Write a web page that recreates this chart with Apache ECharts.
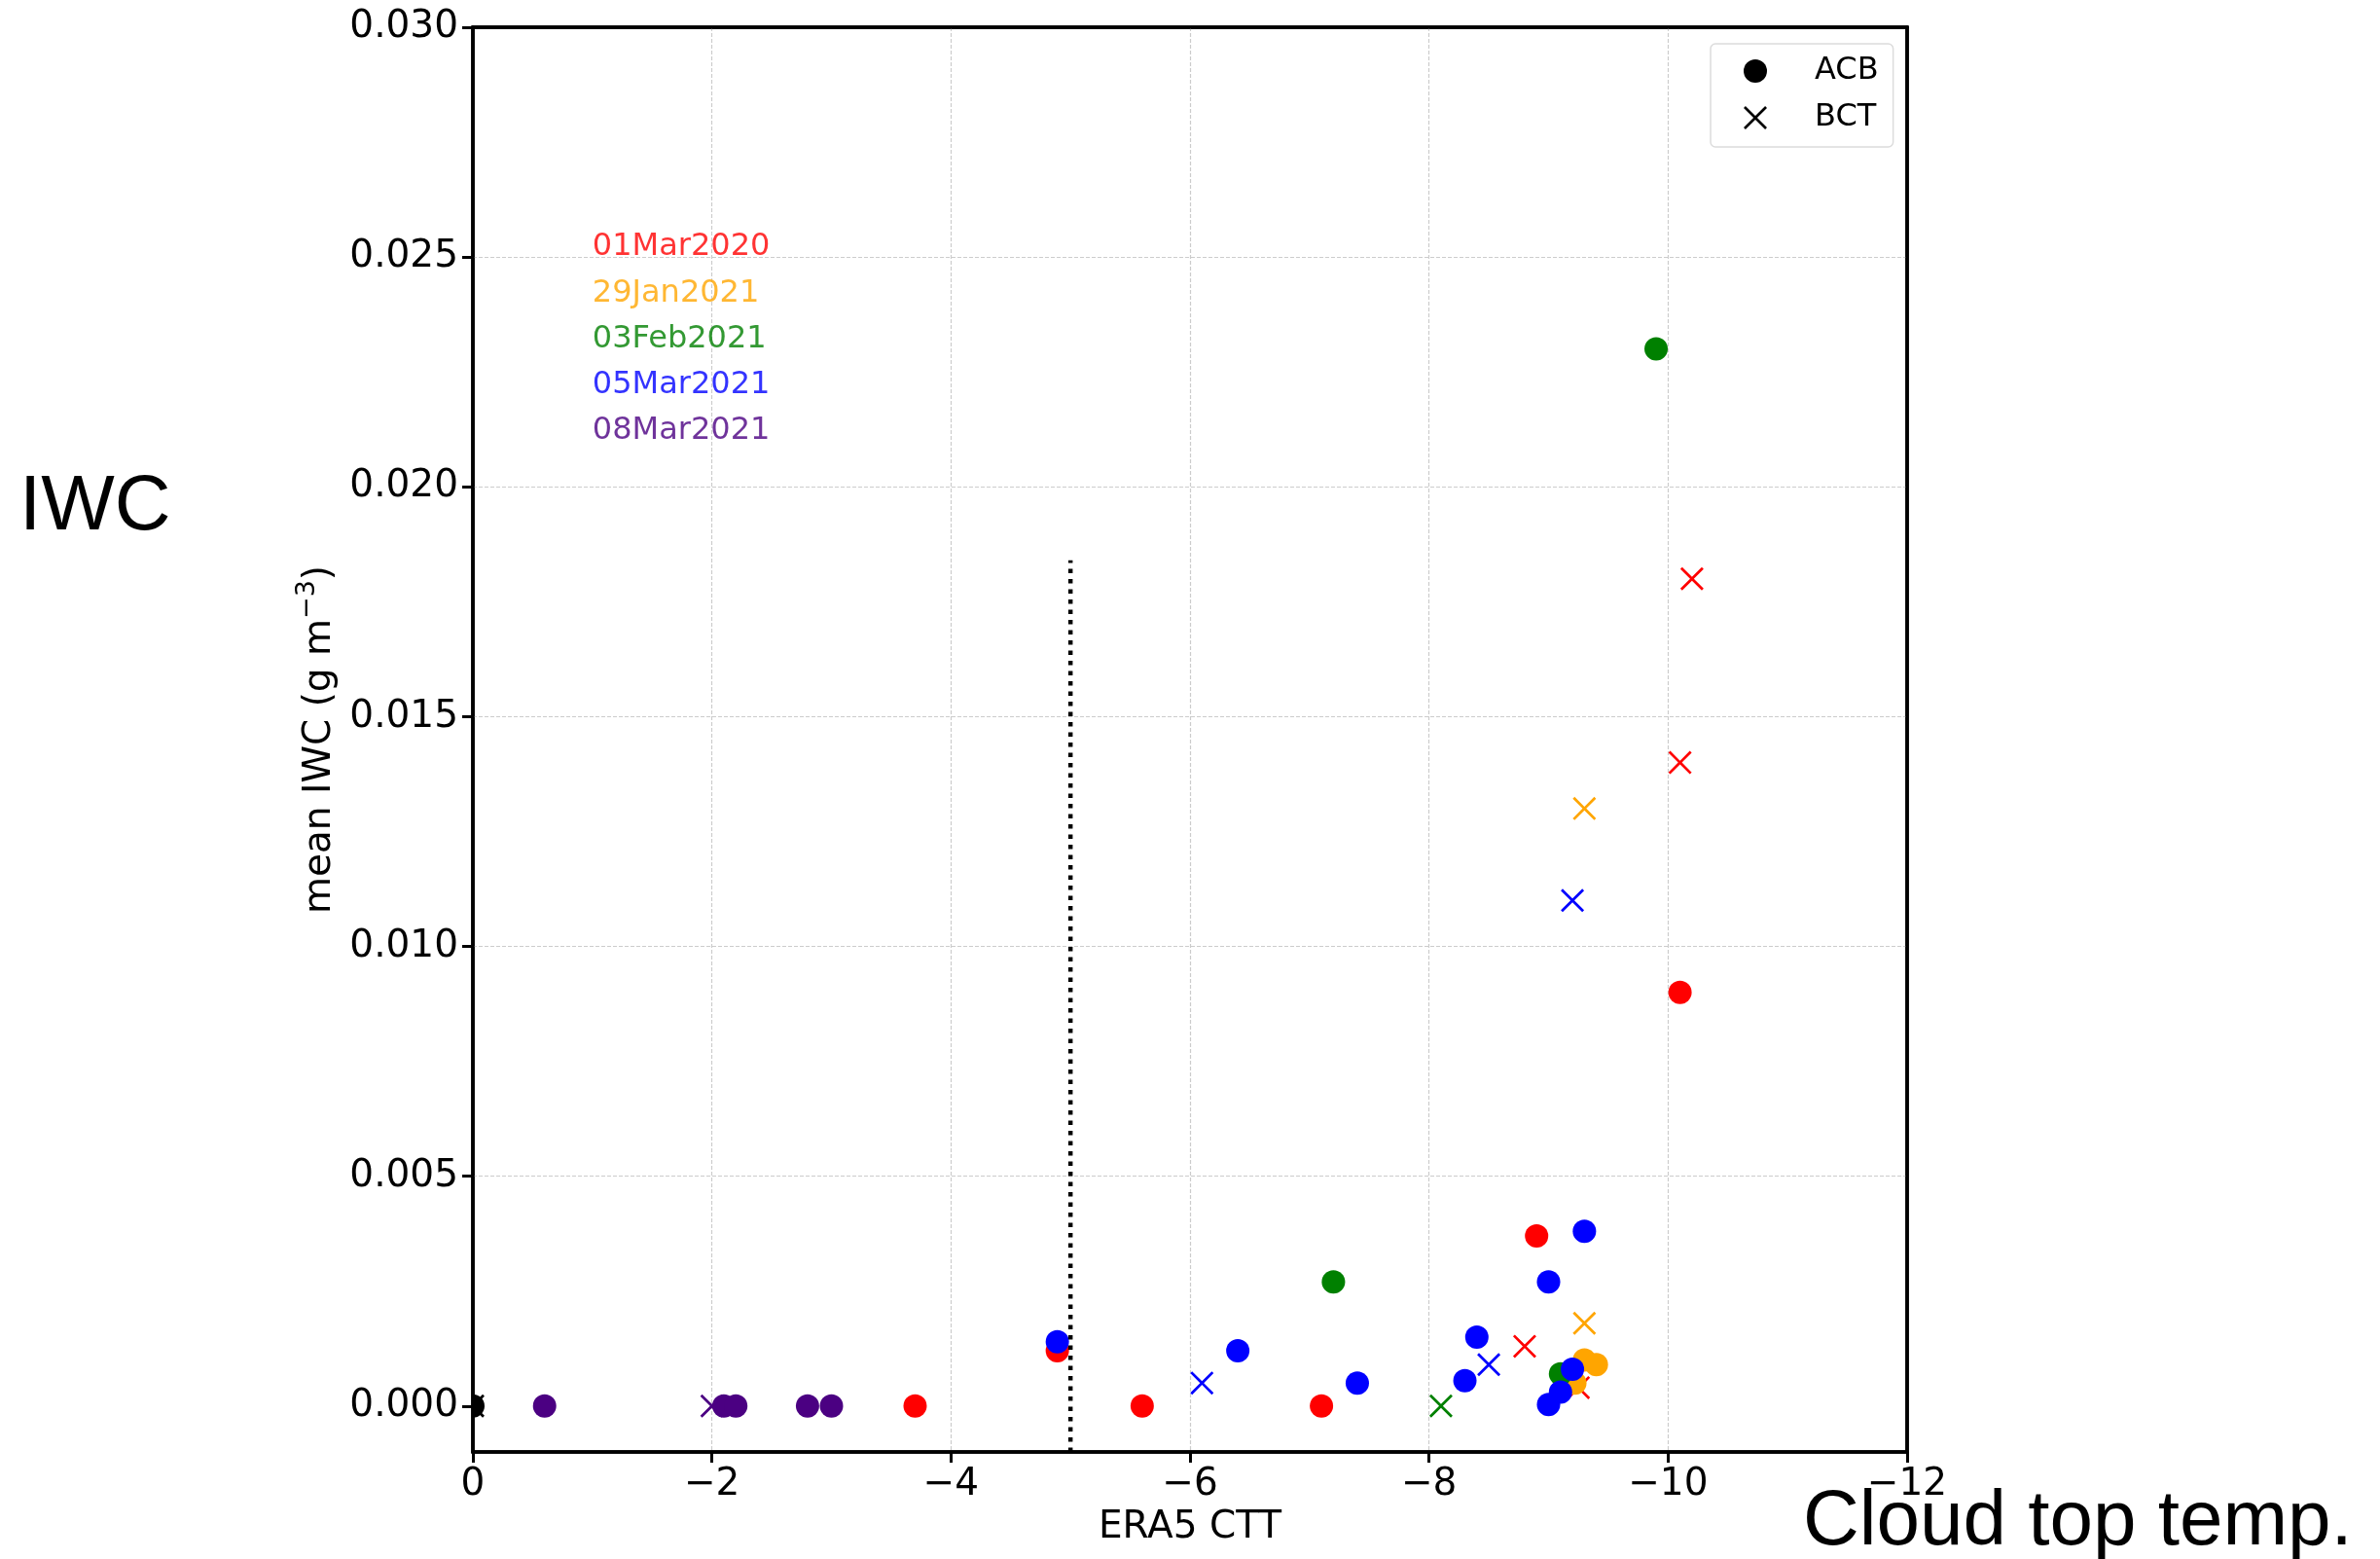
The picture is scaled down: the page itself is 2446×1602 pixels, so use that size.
<!DOCTYPE html>
<html><head><meta charset="utf-8">
<script src="https://cdn.jsdelivr.net/npm/echarts@6/dist/echarts.min.js"></script>
<style>html,body{margin:0;padding:0;background:#fff}#c{width:2446px;height:1602px}</style>
</head><body><div id="c"></div>
<script>
// ---- data ----
const dates = ['01Mar2020', '29Jan2021', '03Feb2021', '05Mar2021', '08Mar2021'];

// ACB (circles): [ERA5 CTT, mean IWC]
const acb_01Mar2020 = [[-3.7, 0], [-4.89, 0.0012], [-5.6, 0], [-7.1, 0], [-8.9, 0.0037], [-10.1, 0.009]];
const acb_29Jan2021 = [[-9.3, 0.001], [-9.4, 0.0009], [-9.22, 0.0005]];
const acb_03Feb2021 = [[-7.2, 0.0027], [-9.1, 0.0007], [-9.9, 0.023]];
const acb_05Mar2021 = [[-4.89, 0.0014], [-6.4, 0.0012], [-7.4, 0.0005], [-8.3, 0.00055], [-8.4, 0.0015],
                       [-9.0, 0.0027], [-9.0, 0.00003], [-9.1, 0.0003], [-9.2, 0.0008], [-9.3, 0.0038]];
const acb_08Mar2021 = [[-0.6, 0], [-2.1, 0], [-2.2, 0], [-2.8, 0], [-3.0, 0]];

// BCT (crosses)
const bct_01Mar2020 = [[-8.8, 0.0013], [-9.25, 0.0004], [-10.1, 0.014], [-10.2, 0.018]];
const bct_29Jan2021 = [[-9.3, 0.0018], [-9.3, 0.013]];
const bct_03Feb2021 = [[-8.1, 0]];
const bct_05Mar2021 = [[-6.1, 0.0005], [-8.5, 0.0009], [-9.2, 0.011]];
const bct_08Mar2021 = [[-2.0, 0]];

// legend handles (black points at origin)
const acb_legend = [[0, 0]];
const bct_legend = [[0, 0]];

// vertical reference line at -5 C
const cutoffLine = [[-5, -0.001], [-5, 0.0184]];

// date annotation positions (data coords)
const dateLabelX = -1;
const dateLabelY = [0.025, 0.024, 0.023, 0.022, 0.021];

// axes
const yTicks = [0, 0.005, 0.010, 0.015, 0.020, 0.025, 0.030];
const xMin = -12, xMax = 0, xStep = 2;
const yMin = -0.001, yMax = 0.030;

// ---- styles ----
const FONT = 'DejaVu Sans';
const colors = ['#ff0000', '#ffa500', '#008000', '#0000ff', '#4b0082'];
const crossPath = 'path://M0,8L8,0L50,42L92,0L100,8L58,50L100,92L92,100L50,58L8,100L0,92L42,50Z';
const acbByDate = [acb_01Mar2020, acb_29Jan2021, acb_03Feb2021, acb_05Mar2021, acb_08Mar2021];
const bctByDate = [bct_01Mar2020, bct_29Jan2021, bct_03Feb2021, bct_05Mar2021, bct_08Mar2021];

const series = [];
dates.forEach((d, i) => {
  series.push({ name: d + ' ACB', type: 'scatter', data: acbByDate[i], symbol: 'circle', symbolSize: 24,
    itemStyle: { color: colors[i], opacity: 1 }, silent: true, z: 3 });
  series.push({ name: d + ' BCT', type: 'scatter', data: bctByDate[i], symbol: crossPath, symbolSize: 24,
    itemStyle: { color: colors[i], opacity: 1 }, silent: true, z: 3 });
});
// black legend handles, clipped to the plot area like the original
series.push({ name: 'ACB', type: 'custom', data: acb_legend, clip: true, silent: true, z: 3,
  itemStyle: { color: '#000' },
  encode: { x: 0, y: 1 },
  renderItem: (params, api) => {
    const p = api.coord([api.value(0), api.value(1)]);
    return { type: 'circle', shape: { cx: p[0], cy: p[1], r: 12 }, style: { fill: '#000' } };
  } });
series.push({ name: 'BCT', type: 'custom', data: bct_legend, clip: true, silent: true, z: 3,
  itemStyle: { color: '#000' },
  encode: { x: 0, y: 1 },
  renderItem: (params, api) => {
    const p = api.coord([api.value(0), api.value(1)]);
    const h = 11;
    return { type: 'group', children: [
      { type: 'line', shape: { x1: p[0] - h, y1: p[1] - h, x2: p[0] + h, y2: p[1] + h }, style: { stroke: '#000', lineWidth: 2.7 } },
      { type: 'line', shape: { x1: p[0] - h, y1: p[1] + h, x2: p[0] + h, y2: p[1] - h }, style: { stroke: '#000', lineWidth: 2.7 } }
    ] };
  } });
series.push({ name: 'cutoff', type: 'line', data: cutoffLine, symbol: 'none', silent: true, z: 5,
  lineStyle: { color: '#000', width: 4.5, type: [4.5, 6], cap: 'butt' } });
series.push({ name: 'dates', type: 'scatter', symbolSize: 0, silent: true, z: 4,
  data: dates.map((d, i) => ({ value: [dateLabelX, dateLabelY[i]], name: d, label: { color: colors[i] } })),
  label: { show: true, formatter: '{b}', position: 'inside', align: 'left', verticalAlign: 'bottom',
    offset: [0, 6], fontSize: 32, fontFamily: FONT } });

const gridLine = { show: true, showMinLine: false, showMaxLine: false,
  lineStyle: { color: '#cccccc', width: 1.2, type: [4, 2] } };
const axisTextStyle = { fontSize: 39, fontFamily: FONT, color: '#000' };
const spine = { show: true, onZero: false, lineStyle: { color: '#000', width: 3.5 } };

const option = {
  animation: false,
  backgroundColor: '#fff',
  grid: { left: 486, right: 486, top: 28, bottom: 110, show: true, borderColor: '#000', borderWidth: 3.5,
    backgroundColor: 'transparent' },
  xAxis: [{
    type: 'value', min: xMin, max: xMax, interval: xStep, inverse: true,
    axisLine: spine,
    axisTick: { show: true, inside: false, length: 11, lineStyle: { color: '#000', width: 3 } },
    axisLabel: Object.assign({ margin: 14, formatter: v => v === 0 ? '0' : '\u2212' + Math.abs(v) }, axisTextStyle),
    splitLine: gridLine,
    name: 'ERA5 CTT', nameLocation: 'middle', nameGap: 58, nameTextStyle: axisTextStyle
  }, {
    type: 'value', position: 'top', min: xMin, max: xMax, interval: xStep, inverse: true,
    axisLine: spine, axisTick: { show: false }, axisLabel: { show: false }, splitLine: { show: false }
  }],
  yAxis: [{
    type: 'value', min: yMin, max: yMax,
    axisLine: spine,
    axisTick: { show: true, inside: false, length: 11, customValues: yTicks, lineStyle: { color: '#000', width: 3 } },
    axisLabel: Object.assign({ margin: 15, customValues: yTicks, formatter: v => v.toFixed(3) }, axisTextStyle),
    splitLine: gridLine,
    name: '{n|mean IWC (g m}{s|\u22123}{n|)}', nameLocation: 'middle', nameRotate: 90, nameGap: 136,
    nameTextStyle: { fontFamily: FONT, color: '#000', rich: {
      n: { fontSize: 39, fontFamily: FONT, color: '#000', lineHeight: 50, verticalAlign: 'bottom' },
      s: { fontSize: 27, fontFamily: FONT, color: '#000', lineHeight: 50, verticalAlign: 'top', padding: [4, 0, 0, 0] } } }
  }, {
    type: 'value', position: 'right', min: yMin, max: yMax,
    axisLine: spine, axisTick: { show: false }, axisLabel: { show: false }, splitLine: { show: false }
  }],
  legend: {
    data: [{ name: 'ACB', icon: 'circle', itemStyle: { color: '#000' } },
           { name: 'BCT', icon: crossPath, itemStyle: { color: '#000' } }],
    orient: 'vertical', left: 1758, top: 45, itemWidth: 24, itemHeight: 24, itemGap: 16,
    padding: [12, 15, 14, 34], backgroundColor: '#fff', borderColor: '#dcdcdc', borderWidth: 1.5, borderRadius: 5,
    textStyle: { fontSize: 32, fontFamily: FONT, color: '#000', padding: [0, 0, 0, 44] },
    selectedMode: false
  },
  graphic: [
    { type: 'text', x: 20, y: 522, style: { text: 'IWC', font: '80px "Liberation Sans"', fill: '#000', verticalAlign: 'middle', align: 'left' } },
    { type: 'text', x: 1853, y: 1565, style: { text: 'Cloud top temp.', font: '80px "Liberation Sans"', fill: '#000', verticalAlign: 'middle', align: 'left' } }
  ],
  series: series
};

const chart = echarts.init(document.getElementById('c'), null, { renderer: 'canvas' });
chart.setOption(option);
</script>
</body></html>
